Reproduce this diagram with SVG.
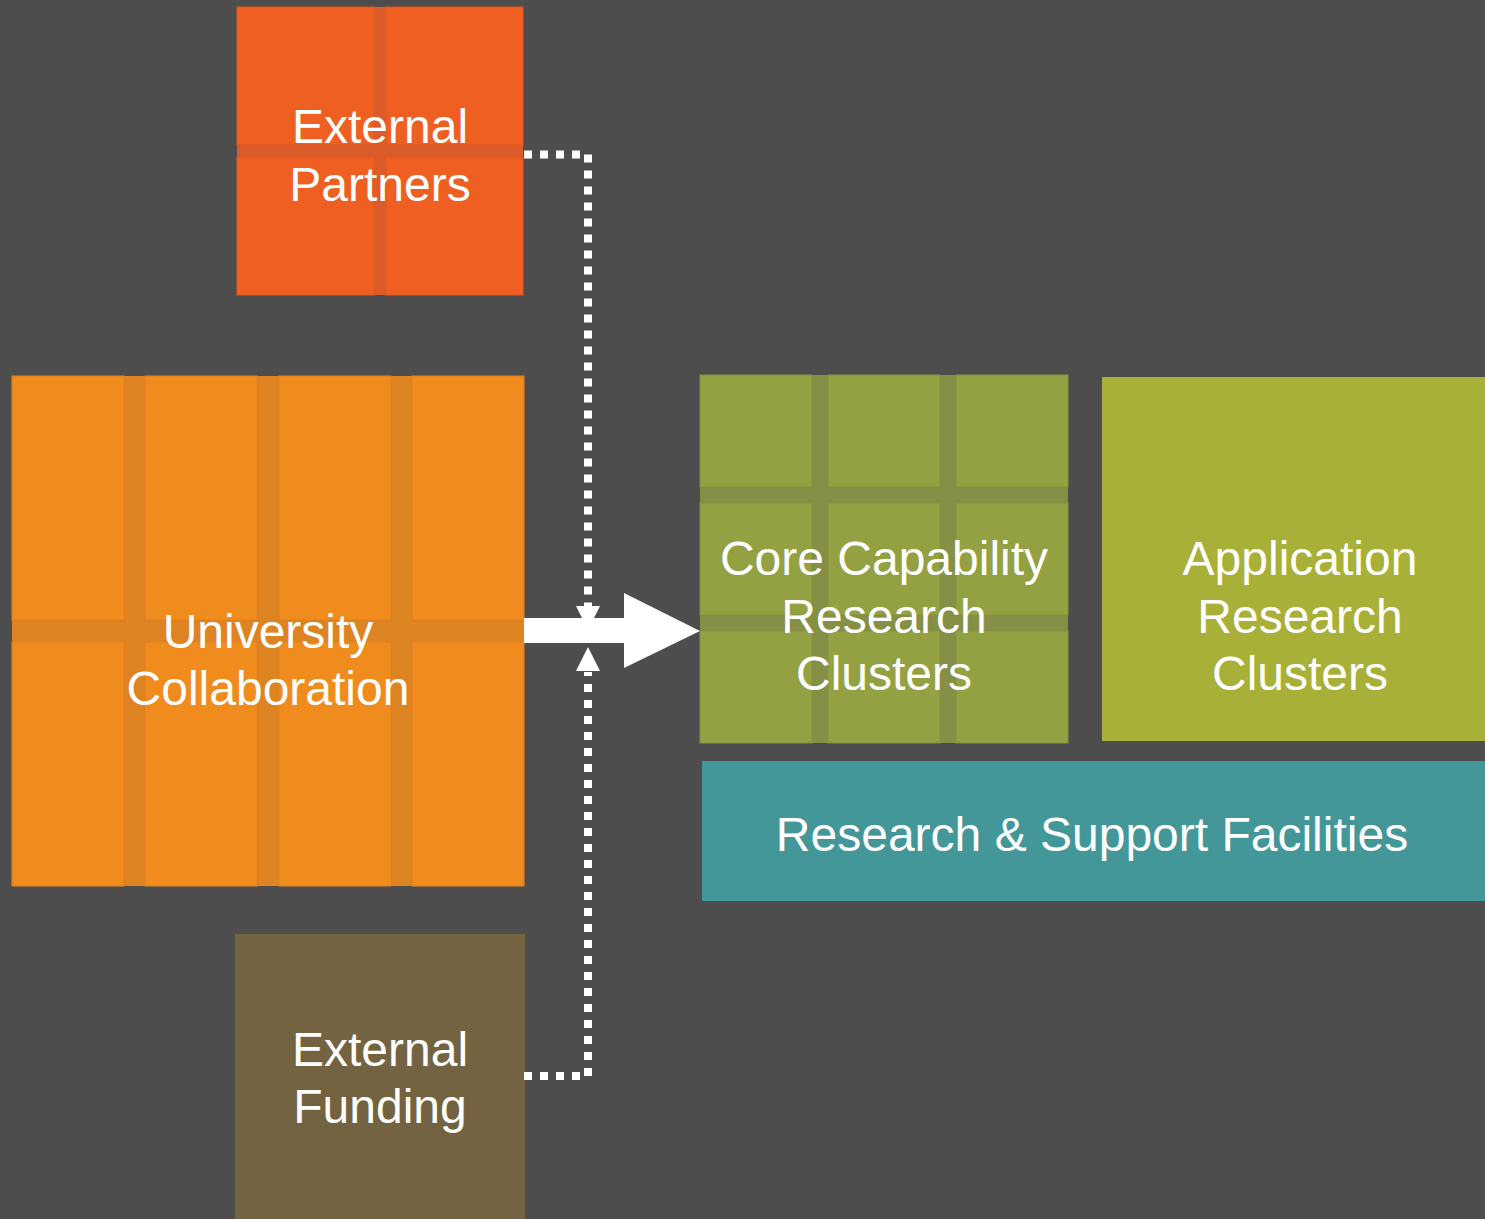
<svg xmlns="http://www.w3.org/2000/svg" width="1485" height="1219" viewBox="0 0 1485 1219">
<style>
.lbl{font-family:"Liberation Sans",Arial,sans-serif;font-size:48px;fill:#ffffff;text-anchor:middle}
.pt{fill:#F05F22;stroke:#E0581E;stroke-width:1}
.pg{fill:#DC5B2B}
.ut{fill:#F08B1E;stroke:#E08020;stroke-width:1}
.ug{fill:#DE8322}
.ct{fill:#93A143;stroke:#86923A;stroke-width:1}
.cg{fill:#858F45}
.dot{fill:none;stroke:#ffffff;stroke-width:8;stroke-dasharray:8 8}
</style>
<rect x="0" y="0" width="1485" height="1219" fill="#4D4D4D"/>

<g id="external-partners">
<rect class="pg" x="237" y="7" width="286" height="288"/>
<rect class="pt" x="237" y="7" width="137" height="138"/>
<rect class="pt" x="386" y="7" width="137" height="138"/>
<rect class="pt" x="237" y="157" width="137" height="138"/>
<rect class="pt" x="386" y="157" width="137" height="138"/>
<text class="lbl" x="380" y="143">External</text>
<text class="lbl" x="380" y="201">Partners</text>
</g>

<g id="university-collaboration">
<rect class="ug" x="12" y="376" width="512" height="510"/>
<rect class="ut" x="12" y="376" width="112" height="244"/>
<rect class="ut" x="145" y="376" width="112" height="244"/>
<rect class="ut" x="279" y="376" width="112" height="244"/>
<rect class="ut" x="412" y="376" width="112" height="244"/>
<rect class="ut" x="12" y="642" width="112" height="244"/>
<rect class="ut" x="145" y="642" width="112" height="244"/>
<rect class="ut" x="279" y="642" width="112" height="244"/>
<rect class="ut" x="412" y="642" width="112" height="244"/>
<text class="lbl" x="268" y="648">University</text>
<text class="lbl" x="268" y="705">Collaboration</text>
</g>

<g id="external-funding">
<rect x="235" y="934" width="290" height="290" fill="#746340"/>
<text class="lbl" x="380" y="1066">External</text>
<text class="lbl" x="380" y="1123">Funding</text>
</g>

<g id="core-capability">
<rect class="cg" x="700" y="375" width="368" height="368"/>
<rect class="ct" x="700" y="375" width="112" height="112"/>
<rect class="ct" x="828" y="375" width="112" height="112"/>
<rect class="ct" x="956" y="375" width="112" height="112"/>
<rect class="ct" x="700" y="503" width="112" height="112"/>
<rect class="ct" x="828" y="503" width="112" height="112"/>
<rect class="ct" x="956" y="503" width="112" height="112"/>
<rect class="ct" x="700" y="631" width="112" height="112"/>
<rect class="ct" x="828" y="631" width="112" height="112"/>
<rect class="ct" x="956" y="631" width="112" height="112"/>
<text class="lbl" x="884" y="575">Core Capability</text>
<text class="lbl" x="884" y="633">Research</text>
<text class="lbl" x="884" y="690">Clusters</text>
</g>

<g id="application-research">
<rect x="1102" y="377" width="400" height="364" fill="#A8B038"/>
<text class="lbl" x="1300" y="575">Application</text>
<text class="lbl" x="1300" y="633">Research</text>
<text class="lbl" x="1300" y="690">Clusters</text>
</g>

<g id="research-support">
<rect x="702" y="761" width="800" height="140" fill="#449799"/>
<text class="lbl" x="1092" y="851">Research &amp; Support Facilities</text>
</g>

<g id="connectors">
<path class="dot" d="M524 154.5 H588 V607"/>
<polygon points="576,606 600,606 588,630" fill="#ffffff"/>
<path class="dot" d="M524 1076 H588 V672"/>
<polygon points="576,671 600,671 588,647" fill="#ffffff"/>
<polygon points="524,618 624,618 624,593 700,631 624,668 624,643 524,643" fill="#ffffff"/>
</g>
</svg>
